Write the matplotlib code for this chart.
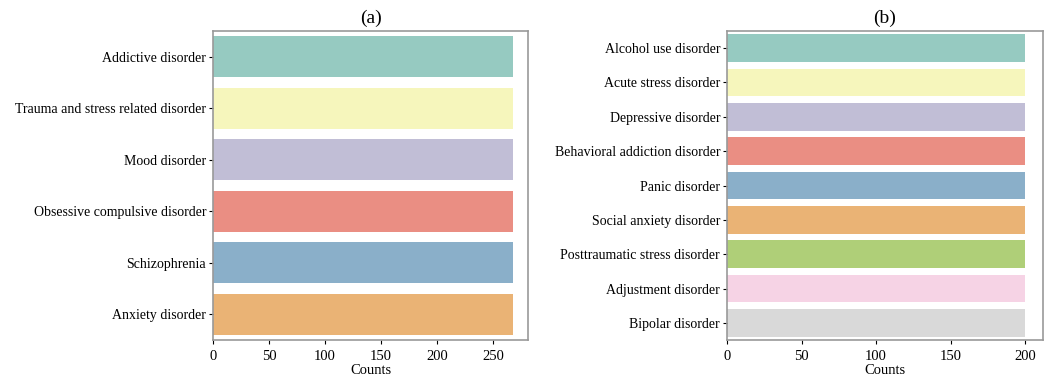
import matplotlib.pyplot as plt
import seaborn as sns

# (a) disorder groups and (b) specific disorders, sample counts
group_labels = ["Addictive disorder", "Trauma and stress related disorder", "Mood disorder",
                "Obsessive compulsive disorder", "Schizophrenia", "Anxiety disorder"]
group_counts = [268, 268, 268, 268, 268, 268]

disorder_labels = ["Alcohol use disorder", "Acute stress disorder", "Depressive disorder",
                   "Behavioral addiction disorder", "Panic disorder", "Social anxiety disorder",
                   "Posttraumatic stress disorder", "Adjustment disorder", "Bipolar disorder"]
disorder_counts = [200, 200, 200, 200, 200, 200, 200, 200, 200]

plt.rcParams['font.family'] = ['Liberation Serif', 'DejaVu Serif']

fig = plt.figure(figsize=(10.51, 3.78), dpi=100)
ax1 = fig.add_axes([0.2027, 0.1005, 0.2997, 0.8175])
ax2 = fig.add_axes([0.6917, 0.1005, 0.3007, 0.8175])

palette = sns.color_palette("Set3", 9)


def draw(ax, labels, counts, title, xmax):
    colors = [sns.desaturate(c, 0.75) for c in palette[:len(labels)]]
    pos = range(len(labels))
    ax.barh(pos, counts, height=0.8, color=colors)
    ax.set_yticks(list(pos))
    ax.set_yticklabels(labels)
    ax.set_ylim(len(labels) - 0.5, -0.5)
    ax.set_xlim(0, xmax)
    ax.set_xlabel("Counts", fontsize=10.5, labelpad=1)
    ax.set_title(title, fontsize=14, pad=6)
    ax.tick_params(axis='both', labelsize=10, length=3, width=0.8)
    ax.tick_params(axis='x', pad=4, labelsize=10.5)
    ax.tick_params(axis='y', pad=2)
    for s in ax.spines.values():
        s.set_color("#999999")
        s.set_linewidth(1.2)


draw(ax1, group_labels, group_counts, "(a)", 281)
draw(ax2, disorder_labels, disorder_counts, "(b)", 212)

fig.savefig("out.png", dpi=100)
